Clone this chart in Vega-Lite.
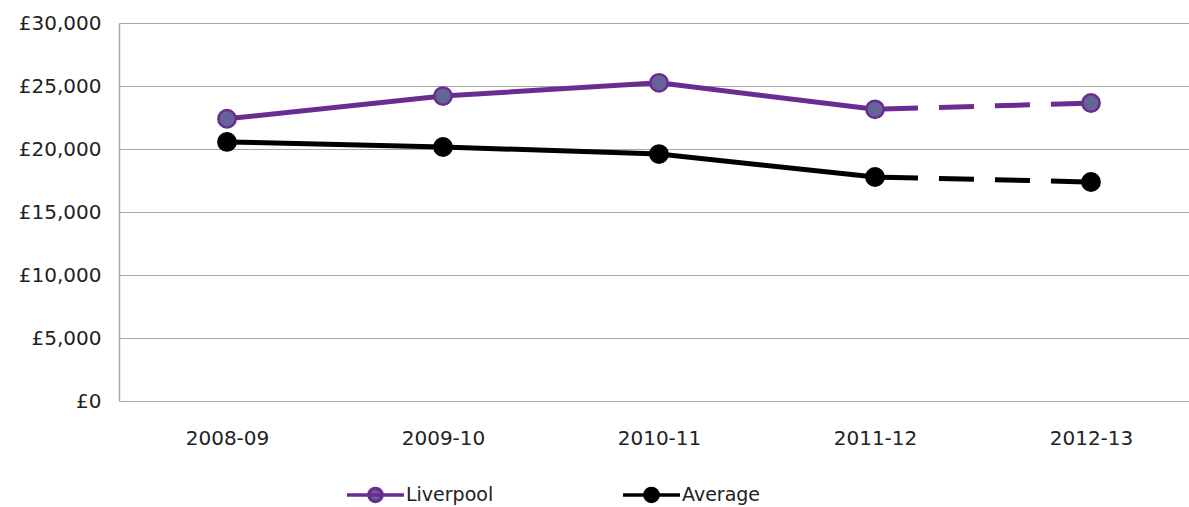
{
  "$schema": "https://vega.github.io/schema/vega-lite/v6.json",
  "width": 1070,
  "height": 378,
  "autosize": "none",
  "padding": {"left": 119, "top": 23, "right": 0, "bottom": 106},
  "background": "white",
  "config": {
    "view": {"stroke": null},
    "font": "DejaVu Sans",
    "axis": {"labelFont": "DejaVu Sans", "labelFontSize": 20, "labelColor": "#222222", "title": null}
  },
  "data": {
    "values": [
      {"year": "2008-09", "series": "Liverpool", "value": 22400},
      {"year": "2009-10", "series": "Liverpool", "value": 24200},
      {"year": "2010-11", "series": "Liverpool", "value": 25250},
      {"year": "2011-12", "series": "Liverpool", "value": 23150},
      {"year": "2012-13", "series": "Liverpool", "value": 23650},
      {"year": "2008-09", "series": "Average", "value": 20560},
      {"year": "2009-10", "series": "Average", "value": 20160},
      {"year": "2010-11", "series": "Average", "value": 19600},
      {"year": "2011-12", "series": "Average", "value": 17780},
      {"year": "2012-13", "series": "Average", "value": 17380}
    ]
  },
  "encoding": {
    "x": {
      "field": "year", "type": "ordinal",
      "scale": {"type": "point", "range": [0, 1080], "padding": 0.5},
      "axis": {"domain": false, "ticks": false, "labelAngle": 0, "labelPadding": 27, "grid": false}
    },
    "y": {
      "field": "value", "type": "quantitative",
      "scale": {"domain": [0, 30000], "nice": false},
      "axis": {
        "values": [0, 5000, 10000, 15000, 20000, 25000, 30000],
        "labelExpr": "'£' + format(datum.value, ',')",
        "domain": true, "domainColor": "#a6a6a6", "domainWidth": 1.5,
        "ticks": false, "labelPadding": 18,
        "grid": true, "gridColor": "#a6a6a6", "gridWidth": 1
      }
    }
  },
  "layer": [
    {
      "transform": [{"filter": "datum.year !== '2012-13'"}],
      "mark": {"type": "line", "strokeWidth": 5},
      "encoding": {
        "color": {
          "field": "series", "type": "nominal",
          "scale": {"domain": ["Liverpool", "Average"], "range": ["#6a2c91", "#000000"]},
          "legend": {
            "title": null,
            "orient": "none",
            "legendX": 226,
            "legendY": 441,
            "direction": "horizontal",
            "symbolType": "M-1,0L1,0M-0.23,0A0.23,0.23 0 1,1 0.23,0A0.23,0.23 0 1,1 -0.23,0Z",
            "symbolSize": 3249,
            "symbolStrokeWidth": 3.5,
            "labelFont": "DejaVu Sans",
            "labelFontSize": 19,
            "labelColor": "#222222",
            "labelOffset": 0,
            "columnPadding": 122,
            "encode": {
              "symbols": {
                "update": {
                  "fill": {"signal": "datum.value === 'Liverpool' ? '#636597' : '#000000'"},
                  "stroke": {"signal": "datum.value === 'Liverpool' ? '#6a2c91' : '#000000'"},
                  "opacity": {"value": 1}
                }
              }
            }
          }
        }
      }
    },
    {
      "transform": [{"filter": "datum.year === '2011-12' || datum.year === '2012-13'"}],
      "mark": {"type": "line", "strokeWidth": 5, "strokeDash": [35, 21], "strokeDashOffset": 48},
      "encoding": {
        "color": {"field": "series", "type": "nominal"}
      }
    },
    {
      "mark": {"type": "point", "filled": true, "opacity": 1, "strokeWidth": 2.5, "size": 300},
      "encoding": {
        "fill": {
          "field": "series", "type": "nominal",
          "scale": {"domain": ["Liverpool", "Average"], "range": ["#636597", "#000000"]},
          "legend": null
        },
        "stroke": {
          "field": "series", "type": "nominal",
          "scale": {"domain": ["Liverpool", "Average"], "range": ["#6a2c91", "#000000"]},
          "legend": null
        }
      }
    }
  ]
}
